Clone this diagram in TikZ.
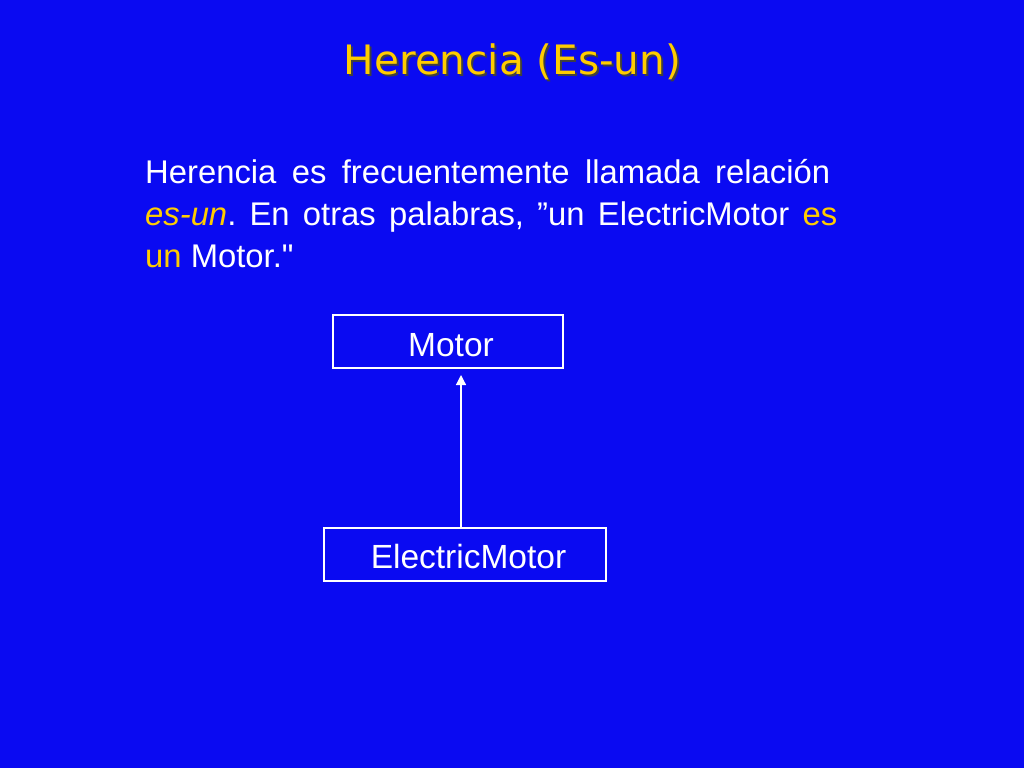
\documentclass[tikz,border=0pt]{standalone}
\usepackage{fontspec}
\setmainfont{Liberation Sans}[Ligatures=TeXOff]
\newfontfamily\titlefont{DejaVu Sans}
\usetikzlibrary{arrows.meta}
\definecolor{bg}{HTML}{0A0AF2}
\definecolor{ttl}{HTML}{FFCC00}
\tikzset{
  box/.style={draw=white, line width=1.2pt, minimum height=53pt, inner sep=0pt},
  boxtext/.style={text=white, font=\fontsize{33.5}{38}\selectfont, anchor=base},
  body/.style={text=white, font=\fontsize{32.8}{42}\selectfont\frenchspacing, anchor=base west, inner sep=0pt},
  ttlstyle/.style={font=\titlefont\fontsize{40.5}{48}\selectfont, anchor=base, inner sep=0pt},
}
\begin{document}
\begin{tikzpicture}[x=1pt,y=-1pt]
\fill[bg] (0,0) rectangle (1024,768);
\useasboundingbox (0,0) rectangle (1024,768);
% title
\node[ttlstyle, text=black!75] (tshadow) at (514.5,76.5) {Herencia (Es-un)};
\node[ttlstyle, text=ttl] (title) at (512.5,74.5) {Herencia (Es-un)};
% body
\node[body] (l1) at (145,183) {\makebox[685pt][s]{Herencia es frecuentemente llamada relación}};
\node[body] (l2) at (145,225) {\makebox[692pt][s]{\textcolor{ttl}{\itshape es-un}. En otras palabras, ”un ElectricMotor \textcolor{ttl}{es}}};
\node[body] (l3) at (145,267) {\textcolor{ttl}{un} Motor."};
% boxes
\node[box, minimum width=230pt] (motor) at (448,341.5) {};
\node[boxtext] (motort) at (451,356) {Motor};
\node[box, minimum width=282pt] (emotor) at (465,554.5) {};
\node[boxtext] (emotort) at (468.5,568) {ElectricMotor};
\draw[white, line width=1.2pt, -{Triangle[length=10pt,width=10pt]}] (emotor.north -| 461,0) -- (461,375);
\end{tikzpicture}
\end{document}
